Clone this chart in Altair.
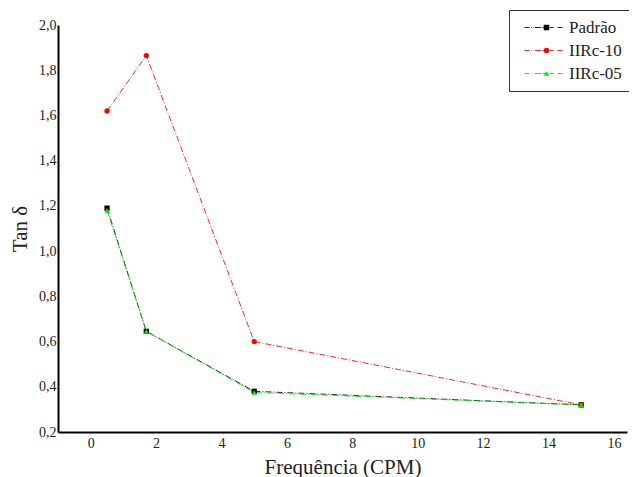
import altair as alt
import pandas as pd

freq = [0.5, 1.7, 5, 15]
series_names = ["Padrão", "IIRc-10", "IIRc-05"]
padrao = [1.19, 0.645, 0.38, 0.32]
iirc10 = [1.62, 1.865, 0.60, 0.32]
iirc05 = [1.18, 0.645, 0.375, 0.32]
colors = ["#000000", "#ff0000", "#00e600"]
shapes = ["square", "circle", "triangle-up"]
x_ticks = list(range(0, 17, 2))
y_ticks = [0.2, 0.4, 0.6, 0.8, 1.0, 1.2, 1.4, 1.6, 1.8, 2.0]

rows = []
for i, (name, vals) in enumerate(zip(series_names, [padrao, iirc10, iirc05])):
    for f, v in zip(freq, vals):
        rows.append({"serie": name, "marcador": name, "ordem": i, "freq": f, "tan": v})
df = pd.DataFrame(rows)

serif = "Liberation Serif"
fmt = "replace(format(datum.value, '.1f'), '.', ',')"

x = alt.X("freq:Q", scale=alt.Scale(domain=[-1.0, 16.4], nice=False, zero=False),
          axis=alt.Axis(values=x_ticks, title="Frequência (CPM)", grid=False, ticks=False,
                        labelFont=serif, labelFontSize=14, labelColor="#222",
                        titleFont=serif, titleFontSize=21, titleFontWeight="normal",
                        titleColor="#222", titlePadding=6, labelPadding=4,
                        domainColor="black", domainWidth=2))
y = alt.Y("tan:Q", scale=alt.Scale(domain=[0.2, 2.0], nice=False, zero=False),
          axis=alt.Axis(values=y_ticks, title="Tan δ", grid=False, ticks=False,
                        labelExpr=fmt, labelFont=serif, labelFontSize=14, labelColor="#222",
                        titleFont=serif, titleFontSize=21, titleFontWeight="normal",
                        titleColor="#222", titlePadding=8, labelPadding=2,
                        domainColor="black", domainWidth=2))

LX, LY = 451, -15
dash_path = ("M-0.4,0H0.6M0.9,0H1.0M1.3,0H1.4M1.7,0H2.9M3.2,0H4.2"
             "M4.6,0H5.4M6.2,0H7.2")
line_legend = alt.Legend(title=None, orient="none", legendX=LX, legendY=LY,
                         labelFont=serif, labelFontSize=17, labelColor="#222",
                         strokeColor="#333", padding=9, rowPadding=5,
                         symbolType=dash_path, symbolSize=100, symbolStrokeWidth=1,
                         labelOffset=34, fillColor="white")
mark_legend = alt.Legend(title=None, orient="none", legendX=LX + 20, legendY=LY,
                         labelFont=serif, labelFontSize=17, labelExpr="''",
                         padding=9, rowPadding=5, symbolSize=30, labelOffset=0)

line_color = alt.Color("serie:N", scale=alt.Scale(domain=series_names, range=colors), legend=line_legend)
mark_color = alt.Color("marcador:N", scale=alt.Scale(domain=series_names, range=colors), legend=mark_legend)
mark_shape = alt.Shape("marcador:N", scale=alt.Scale(domain=series_names, range=shapes), legend=mark_legend)

base = alt.Chart(df)
lines = base.mark_line(strokeWidth=1, strokeDash=[6, 2, 1, 2], opacity=0.85).encode(
    x=x, y=y, color=line_color, detail="serie:N", order="ordem:Q")
points = base.mark_point(filled=True, size=28, opacity=1).encode(
    x=x, y=y, color=mark_color, shape=mark_shape, order="ordem:Q")

chart = alt.layer(lines, points).resolve_scale(
    color="independent", shape="independent"
).resolve_legend(color="independent", shape="independent").properties(
    width=569, height=407,
    padding={"left": 50, "top": 17, "right": 2, "bottom": 45},
    autosize=alt.AutoSizeParams(type="none"),
).configure_view(stroke=None)

chart.save("out.html", embed_options={"renderer": "svg", "actions": False})
